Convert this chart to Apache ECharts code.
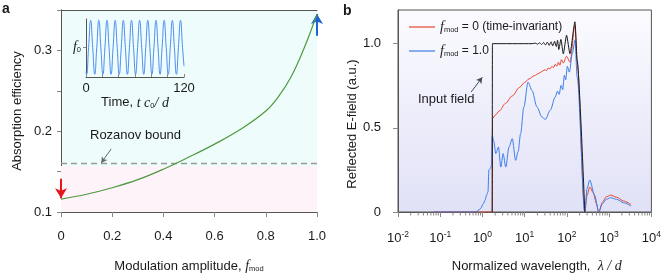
<!DOCTYPE html>
<html><head><meta charset="utf-8">
<script src="https://cdn.jsdelivr.net/npm/echarts@6/dist/echarts.min.js"></script>
<style>html,body{margin:0;padding:0;background:#fff}#c{width:664px;height:280px}</style>
</head><body><div id="c"></div>
<script>
// ---- Panel a data ----
const fmod = [0, 0.1, 0.2, 0.3, 0.4, 0.5, 0.6, 0.7, 0.8, 0.85, 0.9, 0.95, 1.0];
const absorption = [0.116, 0.122, 0.13, 0.14, 0.153, 0.168, 0.184, 0.202, 0.225, 0.243, 0.268, 0.303, 0.345];
const rozanovBound = 0.157;
// inset: modulation vs time
const insetTime = [0, 0.7, 3.2, 5.7, 8.2, 10.7, 13.2, 15.7, 18.2, 20.7, 23.2, 25.7, 28.2, 30.7, 33.2, 35.7, 38.2, 40.7, 43.2, 45.7, 48.2, 50.7, 53.2, 55.7, 58.2, 60.7, 63.2, 65.7, 68.2, 70.7, 73.2, 75.7, 78.2, 80.7, 83.2, 85.7, 88.2, 90.7, 93.2, 95.7, 98.2, 100.7, 103.2, 105.7, 108.2, 110.7, 113.2, 115.7, 118.2, 120];
const insetMod = [-0.9, -1, 0, 1, 0, -1, 0, 1, 0, -1, 0, 1, 0, -1, 0, 1, 0, -1, 0, 1, 0, -1, 0, 1, 0, -1, 0, 1, 0, -1, 0, 1, 0, -1, 0, 1, 0, -1, 0, 1, 0, -1, 0, 1, 0, -1, 0, 1, 0, -0.7];

// ---- Panel b data: [lambda/d, E] ----
const inputField = [[1.7,0],[1.72,1.0],[15,1.0],[18,1.003],[20,0.997],[22.5,1.005],[25,0.995],[28,1.007],[31,0.992],[34.5,1.009],[38,0.99],[42,1.011],[46,0.987],[51,1.014],[56,0.983],[60,1.02],[64,0.965],[72,1.025],[82,0.94],[98,1.05],[118,0.94],[155,1.13],[175,0.9],[265,0]];
const timeInvariant = [[0.07,0],[1.7,0],[1.73,0.555],[2.0,0.575],[2.5,0.60],[3.5,0.645],[5.1,0.69],[7.5,0.74],[10,0.77],[12.5,0.79],[17,0.81],[22,0.825],[27,0.838],[30,0.845],[33,0.84],[36,0.855],[40,0.85],[44,0.865],[48,0.858],[53,0.878],[58,0.866],[63,0.89],[68,0.872],[74,0.905],[82,0.885],[98,0.925],[118,0.89],[155,1.11],[175,0.88],[265,0],[300,0.1],[347,0.148],[420,0.115],[500,0.05],[565,0],[700,0.06],[850,0.09],[1080,0.10],[1500,0.088],[2200,0.065],[3300,0.044]];
const modulated = [[0.07,0],[0.6,0],[0.75,0.005],[0.9,0.02],[1.05,0.05],[1.15,0.07],[1.25,0.1],[1.35,0.12],[1.42,0.25],[1.55,0.26],[1.65,0.28],[1.7,0.455],[1.85,0.42],[2.07,0.347],[2.39,0.386],[2.72,0.267],[3.08,0.347],[3.56,0.267],[4.25,0.386],[5.08,0.436],[6.1,0.307],[7.0,0.36],[8.0,0.466],[9.55,0.624],[12,0.772],[14.9,0.722],[19.5,0.624],[25.6,0.564],[30.8,0.55],[40.3,0.604],[52.7,0.683],[59.7,0.718],[65.3,0.699],[72.8,0.752],[79.4,0.727],[87,0.812],[93.4,0.786],[102,0.865],[114,0.831],[134,0.94],[155,1.02],[175,0.8],[265,0],[300,0.14],[347,0.19],[450,0.1],[565,0],[700,0.05],[850,0.075],[1080,0.085],[1500,0.075],[2200,0.055],[3300,0.035]];
const bXTicks = [0.01, 0.1, 1, 10, 100, 1000, 10000];
const bMinorTicks = [0.02,0.03,0.04,0.05,0.06,0.07,0.08,0.09,0.2,0.3,0.4,0.5,0.6,0.7,0.8,0.9,2,3,4,5,6,7,8,9,20,30,40,50,60,70,80,90,200,300,400,500,600,700,800,900,2000,3000,4000,5000,6000,7000,8000,9000];
const bYTicks = [0, 0.5, 1.0];

const F = '"Liberation Sans","Arial",sans-serif';
const SERIF = '"Liberation Serif","DejaVu Serif",serif';
const FS = 13;
const TXT = '#1a1a1a';
const AX = '#555';
const TICK = '#888';

const richBase = {
  t: {fontFamily: F, fontSize: FS, color: TXT},
  l: {fontFamily: F, fontSize: 12, color: TXT},
  f: {fontFamily: SERIF, fontStyle: 'italic', fontSize: 14, color: TXT},
  s: {fontFamily: F, fontSize: 7.5, color: TXT, verticalAlign: 'bottom', padding: [6, 0, 0, 0]},
  b: {fontFamily: F, fontSize: FS, color: TXT},
  p: {fontFamily: F, fontSize: 8.5, color: TXT, padding: [0, 0, 7, 0]}
};

const chart = echarts.init(document.getElementById('c'), null, {renderer: 'canvas'});

chart.setOption({
  animation: false,
  textStyle: {fontFamily: F},
  grid: [
    {left: 61, right: 347, top: 10, bottom: 68, show: true, backgroundColor: '#eefcfc', borderWidth: 0},
    {left: 86, right: 480, top: 19, bottom: 203, show: false},
    {left: 398, right: 10, top: 10, bottom: 68, show: true, borderColor: AX, borderWidth: 1,
      backgroundColor: {type: 'linear', x: 0, y: 0, x2: 0, y2: 1, colorStops: [{offset: 0, color: '#fbfbff'}, {offset: 1, color: '#e1e1f7'}]}}
  ],
  xAxis: [
    {gridIndex: 0, type: 'value', min: 0, max: 1, interval: 0.2,
      axisLine: {lineStyle: {color: AX}}, splitLine: {show: false},
      axisTick: {length: 5, lineStyle: {color: TICK}},
      axisLabel: {fontFamily: F, fontSize: FS, color: TXT, margin: 18, formatter: v => v === 0 ? '0' : v.toFixed(1)},
      name: '{t|Modulation amplitude, }{f|f}{s|mod}', nameLocation: 'middle', nameGap: 47,
      nameTextStyle: {rich: richBase}},
    {gridIndex: 0, type: 'value', min: 0, max: 1, position: 'top', axisLine: {lineStyle: {color: AX}}, axisTick: {show: false}, axisLabel: {show: false}, splitLine: {show: false}},
    {gridIndex: 1, type: 'value', min: 0, max: 120, interval: 20,
      axisLine: {onZero: false, lineStyle: {color: AX}}, splitLine: {show: false},
      axisTick: {inside: true, length: 3, lineStyle: {color: TICK}},
      axisLabel: {fontFamily: F, fontSize: FS, color: TXT, margin: 5, formatter: v => (v === 0 || v === 120) ? String(v) : ''},
      name: '{t|Time, }{f|t c}{s|0}{f|/ d}', nameLocation: 'middle', nameGap: 12,
      nameTextStyle: {rich: richBase}},
    {gridIndex: 2, type: 'log', logBase: 10, min: 0.01, max: 10000,
      axisLine: {lineStyle: {color: AX}}, splitLine: {show: false},
      axisTick: {length: 5, lineStyle: {color: TICK}, customValues: bXTicks},
      axisLabel: {customValues: bXTicks, margin: 18, formatter: v => '{b|10}{p|' + Math.round(Math.log10(v)) + '}', rich: richBase},
      name: '{t|Normalized wavelength,  }{f|λ / d}', nameLocation: 'middle', nameGap: 47,
      nameTextStyle: {rich: richBase, padding: [0, 0, 0, 24]}}
  ],
  yAxis: [
    {gridIndex: 0, type: 'value', min: 0.1, max: 0.35, interval: 0.05,
      axisLine: {show: true, lineStyle: {color: AX}}, splitLine: {show: false},
      axisTick: {show: true, length: 4, lineStyle: {color: TICK}},
      axisLabel: {fontFamily: F, fontSize: FS, color: TXT, margin: 9, formatter: v => (Math.round(v * 100) % 10 === 0) ? v.toFixed(1) : ''},
      name: 'Absorption efficiency', nameLocation: 'middle', nameGap: 37,
      nameTextStyle: {fontFamily: F, fontSize: FS, color: TXT}},
    {gridIndex: 0, type: 'value', min: 0.1, max: 0.35, position: 'right', axisLine: {show: true, lineStyle: {color: AX}}, axisTick: {show: false}, axisLabel: {show: false}, splitLine: {show: false}},
    {gridIndex: 1, type: 'value', min: -1.1, max: 1.05,
      axisLine: {show: true, onZero: false, lineStyle: {color: AX}}, splitLine: {show: false},
      axisTick: {show: true, length: 3, lineStyle: {color: TICK}, customValues: [0]},
      axisLabel: {customValues: [0], margin: 5, formatter: () => '{f|f}{s|0}', rich: richBase}},
    {gridIndex: 2, type: 'value', min: 0, max: 1.2,
      axisLine: {show: true, lineStyle: {color: AX}}, splitLine: {show: false},
      axisTick: {show: true, length: 5, lineStyle: {color: TICK}, customValues: bYTicks},
      axisLabel: {customValues: bYTicks, fontFamily: F, fontSize: FS, color: TXT, margin: 17, formatter: v => v === 0 ? '0' : v.toFixed(1)},
      name: 'Reflected E-field (a.u.)', nameLocation: 'middle', nameGap: 37,
      nameTextStyle: {fontFamily: F, fontSize: FS, color: TXT, padding: [0, 26, 0, 0]}}
  ],
  legend: {
    data: ['fmod0', 'fmod1'], orient: 'vertical', left: 404, top: 15, icon: 'rect', itemWidth: 26, itemHeight: 1.2, itemGap: 10,
    formatter: n => n === 'fmod0' ? '{f|f}{s|mod}{l| = 0 (time-invariant)}' : '{f|f}{s|mod}{l| = 1.0}',
    textStyle: {rich: richBase}
  },
  series: [
    {type: 'line', xAxisIndex: 0, yAxisIndex: 0, data: fmod.map((f, i) => [f, absorption[i]]),
      smooth: 0.4, symbol: 'none', lineStyle: {color: '#4f9a3e', width: 1.2}, z: 5,
      markArea: {silent: true, data: [[{yAxis: 0.1, itemStyle: {color: '#fdf3f9'}}, {yAxis: rozanovBound}]]},
      markLine: {silent: true, symbol: ['none', 'none'], label: {show: false},
        data: [
          {yAxis: rozanovBound, lineStyle: {color: '#999', type: [6, 4], width: 1.3}},
          [{coord: [0, 0.141], symbol: 'none', lineStyle: {color: '#e8151b', width: 2, type: 'solid'}}, {coord: [0, 0.117], symbol: 'arrow', symbolSize: [9, 10], lineStyle: {color: '#e8151b', width: 2, type: 'solid'}}],
          [{coord: [1, 0.318], symbol: 'none', lineStyle: {color: '#1f62d6', width: 2, type: 'solid'}}, {coord: [1, 0.345], symbol: 'arrow', symbolSize: [9, 10], lineStyle: {color: '#1f62d6', width: 2, type: 'solid'}}],
          [{coord: [0.196, 0.178], symbol: 'none', lineStyle: {color: '#666', width: 1, type: 'solid', curveness: 0.3}}, {coord: [0.157, 0.1607], symbol: 'arrow', symbolSize: [5, 6], lineStyle: {color: '#666', width: 1, type: 'solid', curveness: 0.3}}]
        ]}},
    {type: 'line', xAxisIndex: 2, yAxisIndex: 2, data: insetTime.map((t, i) => [t, insetMod[i]]),
      smooth: 0.5, symbol: 'none', lineStyle: {color: '#4a8cf0', width: 1}},
    {name: 'fmod0', type: 'line', xAxisIndex: 3, yAxisIndex: 3, data: timeInvariant, symbol: 'none', smooth: 0.3, smoothMonotone: 'x',
      lineStyle: {color: '#e8452c', width: 1}, itemStyle: {color: '#e8452c'}, z: 3},
    {name: 'fmod1', type: 'line', xAxisIndex: 3, yAxisIndex: 3, data: modulated, symbol: 'none', smooth: 0.3, smoothMonotone: 'x',
      lineStyle: {color: '#3d7ee8', width: 1}, itemStyle: {color: '#3d7ee8'}, z: 4},
    {name: 'input', type: 'line', xAxisIndex: 3, yAxisIndex: 3, data: inputField, symbol: 'none', smooth: 0.2, smoothMonotone: 'x',
      lineStyle: {color: '#1a1a1a', width: 1}, z: 5,
      markLine: {silent: true, symbol: ['none', 'none'], label: {show: false},
        data: [[{coord: [0.54, 0.713], symbol: 'none', lineStyle: {color: '#3d4d55', width: 1, type: 'solid', curveness: -0.3}}, {coord: [0.99, 0.80], symbol: 'arrow', symbolSize: [5, 6], lineStyle: {color: '#3d4d55', width: 1, type: 'solid', curveness: -0.3}}]]}},
    {type: 'custom', xAxisIndex: 3, yAxisIndex: 3, silent: true, z: 6, data: bMinorTicks.map(v => [v]),
      renderItem: (params, api) => {
        const p = api.coord([api.value(0), 0]);
        return {type: 'line', shape: {x1: p[0], y1: p[1] + 0.5, x2: p[0], y2: p[1] + 3.5}, style: {stroke: TICK, lineWidth: 1}};
      }}
  ],
  graphic: [
    {type: 'text', left: 2, top: 2, style: {text: 'a', font: 'bold 14px ' + F, fill: TXT}},
    {type: 'text', left: 343, top: 4, style: {text: 'b', font: 'bold 14px ' + F, fill: TXT}},
    {type: 'text', left: 90, top: 129, style: {text: 'Rozanov bound', font: FS + 'px ' + F, fill: TXT}},
    {type: 'text', left: 418, top: 93, style: {text: 'Input field', font: FS + 'px ' + F, fill: TXT}}
  ]
});
</script></body></html>
